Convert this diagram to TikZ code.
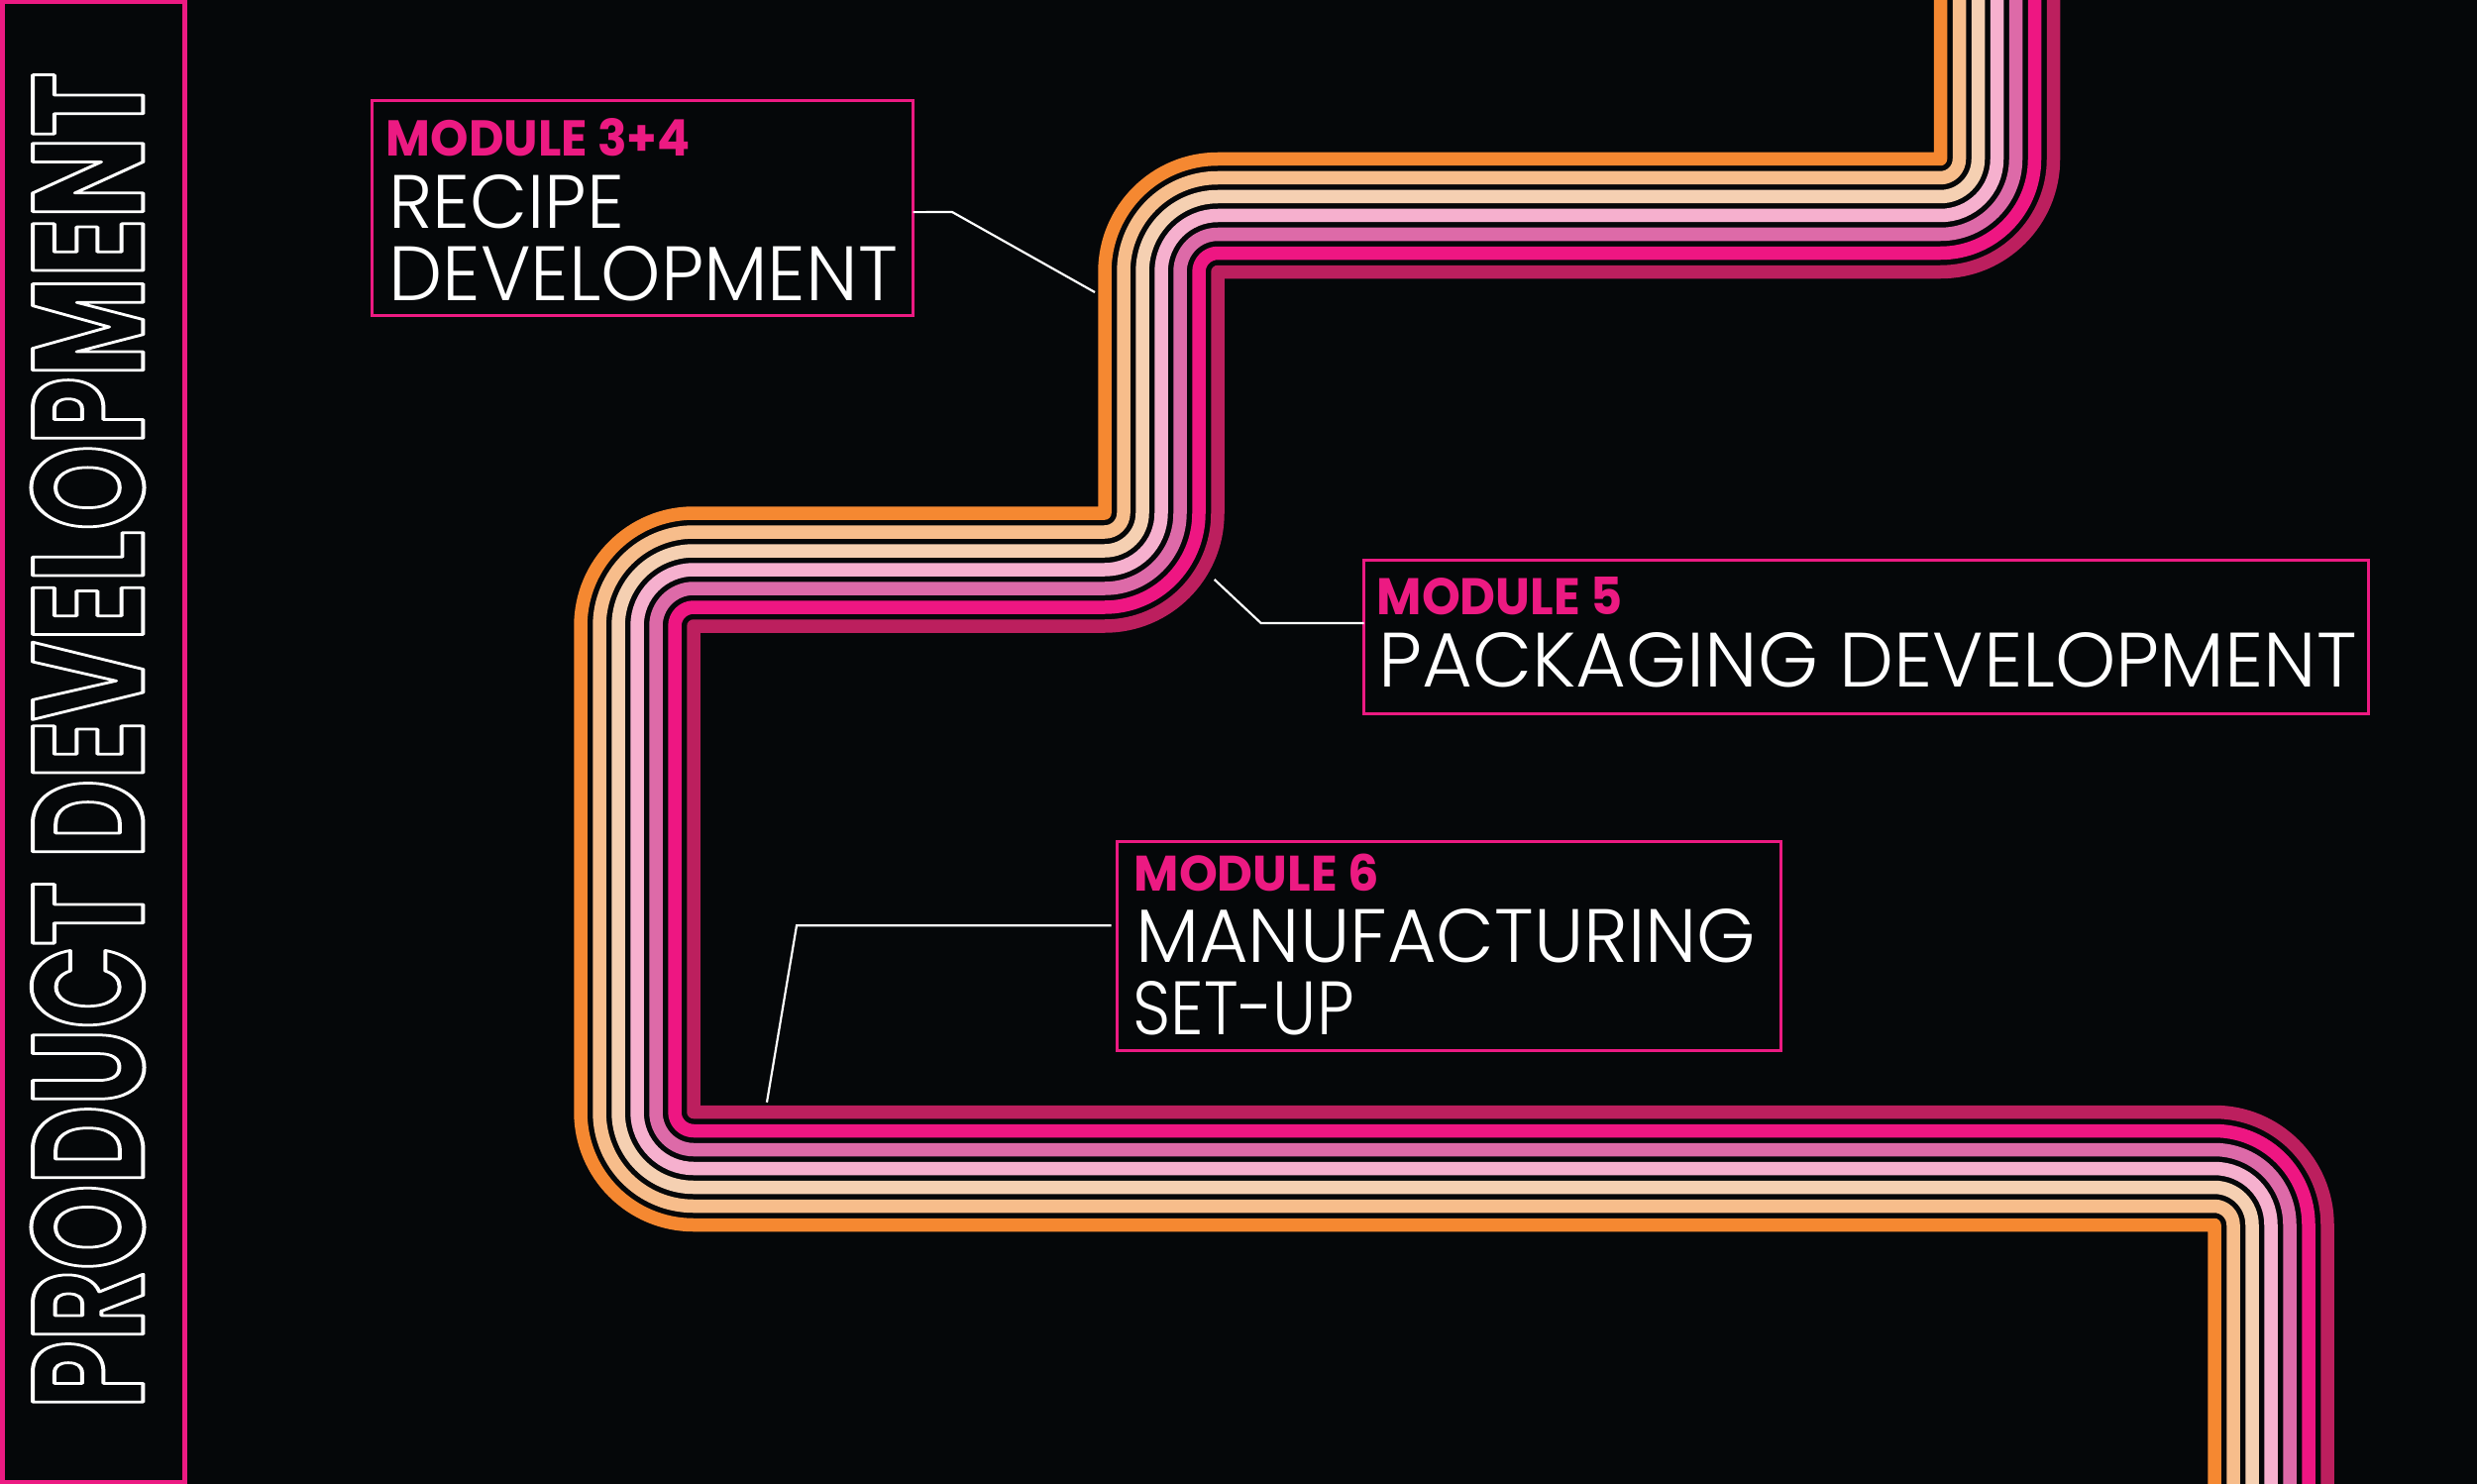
\documentclass[tikz,border=0pt]{standalone}
\usepackage{fontspec}
\usepackage{graphicx}
\setmainfont{Poppins}
\IfFontExistsTF{Poppins Light}{\newfontfamily\whitefont{Poppins Light}}{\newfontfamily\whitefont{Poppins}}
\newfontfamily\boldfont{Poppins}
\definecolor{bg}{HTML}{050709}
\definecolor{sA}{HTML}{F58831}
\definecolor{sB}{HTML}{F7BD8B}
\definecolor{sC}{HTML}{F5D0B2}
\definecolor{sD}{HTML}{F6B0CE}
\definecolor{sE}{HTML}{DD6AA8}
\definecolor{sF}{HTML}{EE1682}
\definecolor{sG}{HTML}{BC1F5E}
\definecolor{mag}{HTML}{EC1A82}
\newcommand{\outlinetext}[1]{\special{pdf:literal direct 1 1 1 RG 2.5 w 1 j 1 Tr}#1\special{pdf:literal direct 0 Tr}}
\begin{document}
\begin{tikzpicture}[x=1pt,y=-1pt,
  stripe/.style={line width=13.5pt,line cap=butt,line join=round},
  labelbox/.style={draw=mag,line width=3pt,rectangle,inner sep=0pt,outer sep=0pt,anchor=north west},
  lead/.style={draw=white,line width=2.2pt,line join=miter},
  modtxt/.style={anchor=base west,inner sep=0pt,text=mag,font=\boldfont\bfseries\fontsize{50}{50}\selectfont},
  maintxt/.style={anchor=base west,inner sep=0pt,text=white,font=\whitefont\fontsize{75}{75}\selectfont},
  titletxt/.style={rotate=90,inner sep=0pt,text=white,font=\boldfont\bfseries\fontsize{100}{100}\selectfont},
]
\fill[bg] (0,0) rectangle (2500,1498);
\useasboundingbox (0,0) rectangle (2500,1498);

% striped road
\foreach \k/\c in {0/sA,1/sB,2/sC,3/sD,4/sE,5/sF,6/sG}{
  \pgfmathsetmacro\xA{1958.5+19*\k}
  \pgfmathsetmacro\yB{160.5+19*\k}
  \pgfmathsetmacro\xC{1115+19*\k}
  \pgfmathsetmacro\yD{518+19*\k}
  \pgfmathsetmacro\xE{586+19*\k}
  \pgfmathsetmacro\yF{1236.5-19*\k}
  \pgfmathsetmacro\xG{2235+19*\k}
  \pgfmathsetmacro\rR{19*\k+0.01}
  \pgfmathsetmacro\rL{19*(6-\k)+0.01}
  \draw[stripe,\c] (\xA,-20) -- (\xA,\yB-\rR) arc[start angle=0,end angle=90,radius=\rR]
     -- (\xC+\rL,\yB) arc[start angle=270,end angle=180,radius=\rL]
     -- (\xC,\yD-\rR) arc[start angle=0,end angle=90,radius=\rR]
     -- (\xE+\rL,\yD) arc[start angle=270,end angle=180,radius=\rL]
     -- (\xE,\yF-\rL) arc[start angle=180,end angle=90,radius=\rL]
     -- (\xG-\rR,\yF) arc[start angle=270,end angle=360,radius=\rR]
     -- (\xG,1520);
}

% vertical title
\node[draw=mag,line width=5pt,rectangle,inner sep=0pt,outer sep=0pt,anchor=north west,
      minimum width=184.3pt,minimum height=1494pt] (vframe) at (2.5,2) {};
\node[titletxt] (vtitle) at (88.5,747.5)
  {\resizebox{1349pt}{113pt}{\outlinetext{PRODUCT DEVELOPMENT}}};

% box 1
\node[labelbox,minimum width=546.5pt,minimum height=216.3pt] (b1) at (375,102) {};
\node[modtxt] (t1a) at (389.5,157.3) {\resizebox{307pt}{38pt}{MODULE 3+4}};
\node[maintxt] (t1b) at (392,230) {\resizebox{238pt}{54pt}{RECIPE}};
\node[maintxt] (t1c) at (392,303) {\resizebox{514pt}{55pt}{DEVELOPMENT}};

% box 2
\node[labelbox,minimum width=1013.3pt,minimum height=155.7pt] (b2) at (1376.7,565) {};
\node[modtxt] (t2a) at (1389.5,620.7) {\resizebox{248pt}{38pt}{MODULE 5}};
\node[maintxt] (t2b) at (1391.5,693.3) {\resizebox{987pt}{55pt}{PACKAGING DEVELOPMENT}};

% box 3
\node[labelbox,minimum width=669.7pt,minimum height=211pt] (b3) at (1127.3,849) {};
\node[modtxt] (t3a) at (1144.5,899) {\resizebox{247pt}{37.5pt}{MODULE 6}};
\node[maintxt] (t3b) at (1146,971.7) {\resizebox{626pt}{54pt}{MANUFACTURING}};
\node[maintxt] (t3c) at (1143.5,1044.3) {\resizebox{223pt}{54pt}{SET-UP}};

% leader lines
\coordinate (k1) at (961,214);
\coordinate (e1) at (1105,295);
\draw[lead] ([yshift=-4pt]b1.east) -- (k1) -- (e1);
\coordinate (k2) at (1272.7,629);
\coordinate (e2) at (1225.7,585);
\draw[lead] ([yshift=13.85pt]b2.west) -- (k2) -- (e2);
\coordinate (k3) at (804,934.3);
\coordinate (e3) at (774,1112.7);
\draw[lead] ([xshift=-5.6pt,yshift=20.2pt]b3.west) -- (k3) -- (e3);
\end{tikzpicture}
\end{document}
